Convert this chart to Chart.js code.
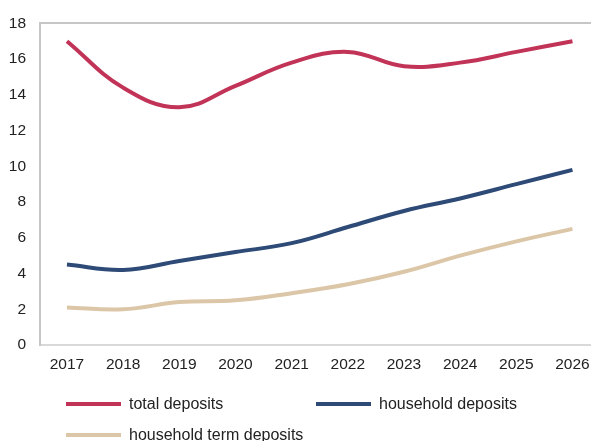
<!DOCTYPE html>
<html>
<head>
<meta charset="utf-8">
<script src="https://cdn.jsdelivr.net/npm/chart.js@4"></script>
<style>
  html, body { margin: 0; padding: 0; background: #fff; overflow: hidden; }
  #wrap { position: relative; width: 591px; height: 441px; }
  #c { position: absolute; left: 0; top: 0; }
  .legend { position: absolute; left: 0; top: 0; width: 591px; height: 441px; pointer-events: none;
            font-family: "Liberation Sans", Arial, sans-serif; font-size: 16px; color: #222; }
  .item { position: absolute; display: flex; align-items: center; height: 20px; white-space: nowrap; }
  .swatch { width: 55px; height: 4px; margin-right: 8px; }
</style>
</head>
<body>
<div id="wrap">
  <canvas id="c" width="591" height="441"></canvas>
  <div class="legend" id="legend"></div>
</div>
<script>
// Years shown on the x axis
const categories = [2017, 2018, 2019, 2020, 2021, 2022, 2023, 2024, 2025, 2026];

// Deposit series
const totalDeposits         = [17.0, 14.4, 13.3, 14.5, 15.8, 16.4, 15.6, 15.8, 16.4, 17.0];
const householdDeposits     = [4.5, 4.2, 4.7, 5.2, 5.7, 6.6, 7.5, 8.2, 9.0, 9.8];
const householdTermDeposits = [2.1, 2.0, 2.4, 2.5, 2.9, 3.4, 4.1, 5.0, 5.8, 6.5];

// Y axis tick labels
const yTicks = [0, 2, 4, 6, 8, 10, 12, 14, 16, 18];

const seriesNames  = ['total deposits', 'household deposits', 'household term deposits'];
const seriesColors = ['#C23358', '#2E4A76', '#DCC6A8'];
const seriesData   = [totalDeposits, householdDeposits, householdTermDeposits];

const font = { family: '"Liberation Sans", Arial, sans-serif', size: 15.5 };

const datasets = seriesData.map((vals, i) => ({
  label: seriesNames[i],
  data: vals.map((v, k) => ({ x: categories[k], y: v })),
  borderColor: seriesColors[i],
  backgroundColor: seriesColors[i],
  borderWidth: 4,
  pointRadius: 0,
  tension: 0.4,
  fill: false,
  borderCapStyle: 'butt'
}));

const chart = new Chart(document.getElementById('c'), {
  type: 'line',
  data: { datasets },
  options: {
    responsive: false,
    animation: false,
    layout: { padding: { top: 22, right: 0, bottom: 0, left: 0 } },
    plugins: { legend: { display: false }, tooltip: { enabled: false } },
    scales: {
      x: {
        type: 'linear',
        min: 2016.52,
        max: 2026.33,
        grid: { display: false, drawTicks: false },
        border: { display: true, color: '#D9D9D9', width: 2 },
        ticks: {
          color: '#222',
          font,
          padding: 10,
          maxRotation: 0,
          autoSkip: false,
          callback: v => String(v)
        },
        afterBuildTicks: s => { s.ticks = categories.map(v => ({ value: v })); },
        afterFit: s => { s.height = 96; s.paddingLeft = 0; s.paddingRight = 0; }
      },
      y: {
        min: 0,
        max: 18,
        grid: {
          drawTicks: false,
          lineWidth: 2,
          color: ctx => (ctx.tick && ctx.tick.value === 18 ? '#C6C6C6' : 'rgba(0,0,0,0)')
        },
        border: { display: true, color: '#C6C6C6', width: 2 },
        ticks: { color: '#222', font, padding: 14, stepSize: 2 },
        afterBuildTicks: s => { s.ticks = yTicks.map(v => ({ value: v })); },
        afterFit: s => { s.width = 40; }
      }
    }
  }
});

// Two-column legend below the plot
const legendPos = [
  { left: 66, top: 393.5 },
  { left: 316, top: 393.5 },
  { left: 66, top: 424.5 }
];
const legendEl = document.getElementById('legend');
chart.data.datasets.forEach((ds, i) => {
  const item = document.createElement('div');
  item.className = 'item';
  item.style.left = legendPos[i].left + 'px';
  item.style.top = legendPos[i].top + 'px';
  const sw = document.createElement('span');
  sw.className = 'swatch';
  sw.style.background = ds.borderColor;
  const tx = document.createElement('span');
  tx.textContent = ds.label;
  item.appendChild(sw);
  item.appendChild(tx);
  legendEl.appendChild(item);
});
</script>
</body>
</html>
